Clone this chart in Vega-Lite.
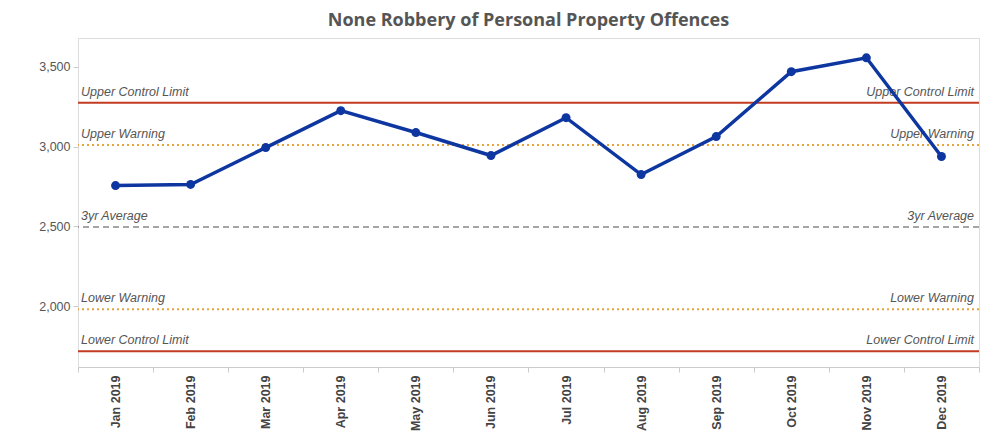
{
  "$schema": "https://vega.github.io/schema/vega-lite/v6.json",
  "autosize": {"type": "fit", "contains": "padding"},
  "width": 994,
  "height": 433,
  "padding": {"left": 38, "top": 12, "right": 14, "bottom": 2},
  "background": "white",
  "title": {
    "text": "None Robbery of Personal Property Offences",
    "font": "Open Sans",
    "fontSize": 18,
    "fontWeight": "bold",
    "color": "#555555",
    "offset": 8
  },
  "config": {
    "view": {"stroke": "#dddddd", "strokeWidth": 1},
    "axis": {"labelFont": "Liberation Sans", "labelColor": "#555555", "labelFontSize": 12.5, "tickColor": "#cccccc", "domainColor": "#cccccc", "grid": false, "title": null}
  },
  "datasets": {
    "offences": [
      {"month": "Jan 2019", "count": 2756},
      {"month": "Feb 2019", "count": 2763},
      {"month": "Mar 2019", "count": 2994},
      {"month": "Apr 2019", "count": 3225},
      {"month": "May 2019", "count": 3088},
      {"month": "Jun 2019", "count": 2944},
      {"month": "Jul 2019", "count": 3181},
      {"month": "Aug 2019", "count": 2825},
      {"month": "Sep 2019", "count": 3063},
      {"month": "Oct 2019", "count": 3469},
      {"month": "Nov 2019", "count": 3556},
      {"month": "Dec 2019", "count": 2938}
    ],
    "limits": [
      {"label": "Upper Control Limit", "value": 3275, "kind": "control"},
      {"label": "Upper Warning", "value": 3010, "kind": "warning"},
      {"label": "3yr Average", "value": 2497, "kind": "average"},
      {"label": "Lower Warning", "value": 1982, "kind": "warning"},
      {"label": "Lower Control Limit", "value": 1719, "kind": "control"}
    ]
  },
  "encoding": {
    "x": {
      "type": "ordinal",
      "scale": {"domain": ["Jan 2019", "Feb 2019", "Mar 2019", "Apr 2019", "May 2019", "Jun 2019", "Jul 2019", "Aug 2019", "Sep 2019", "Oct 2019", "Nov 2019", "Dec 2019"], "paddingInner": 0, "paddingOuter": 0},
      "axis": {"labelAngle": -90, "labelFontWeight": "bold", "labelColor": "#444444", "labelAlign": "right", "labelBaseline": "middle", "tickBand": "extent", "tickSize": 5, "labelPadding": 3}
    },
    "y": {
      "type": "quantitative",
      "scale": {"domain": [1620, 3680], "nice": false, "zero": false},
      "axis": {"values": [2000, 2500, 3000, 3500], "labelExpr": "format(datum.value, ',')", "tickSize": 5, "labelPadding": 3, "domain": false}
    }
  },
  "layer": [
    {
      "data": {"name": "limits"},
      "transform": [{"filter": "datum.kind === 'control'"}],
      "mark": {"type": "rule", "color": "#C23B22", "strokeWidth": 2},
      "encoding": {"y": {"field": "value", "type": "quantitative"}}
    },
    {
      "data": {"name": "limits"},
      "transform": [{"filter": "datum.kind === 'warning'"}],
      "mark": {"type": "rule", "color": "#E8A33D", "strokeWidth": 2, "strokeDash": [2, 3]},
      "encoding": {"y": {"field": "value", "type": "quantitative"}}
    },
    {
      "data": {"name": "limits"},
      "transform": [{"filter": "datum.kind === 'average'"}],
      "mark": {"type": "rule", "color": "#888888", "strokeWidth": 1.5, "strokeDash": [6, 4]},
      "encoding": {"y": {"field": "value", "type": "quantitative"}}
    },
    {
      "data": {"name": "limits"},
      "mark": {"type": "text", "align": "left", "baseline": "bottom", "dx": 3, "dy": -4, "font": "Liberation Sans", "fontSize": 12.5, "fontStyle": "italic", "color": "#555555"},
      "encoding": {
        "x": {"datum": "Jan 2019", "bandPosition": 0},
        "y": {"field": "value", "type": "quantitative"},
        "text": {"field": "label"}
      }
    },
    {
      "data": {"name": "limits"},
      "mark": {"type": "text", "align": "right", "baseline": "bottom", "dx": -5, "dy": -4, "font": "Liberation Sans", "fontSize": 12.5, "fontStyle": "italic", "color": "#555555"},
      "encoding": {
        "x": {"datum": "Dec 2019", "bandPosition": 1},
        "y": {"field": "value", "type": "quantitative"},
        "text": {"field": "label"}
      }
    },
    {
      "data": {"name": "offences"},
      "mark": {"type": "line", "color": "#0D36A0", "strokeWidth": 3.5, "point": {"filled": true, "size": 80, "color": "#0D36A0"}},
      "encoding": {
        "x": {"field": "month", "type": "ordinal"},
        "y": {"field": "count", "type": "quantitative"}
      }
    }
  ]
}
